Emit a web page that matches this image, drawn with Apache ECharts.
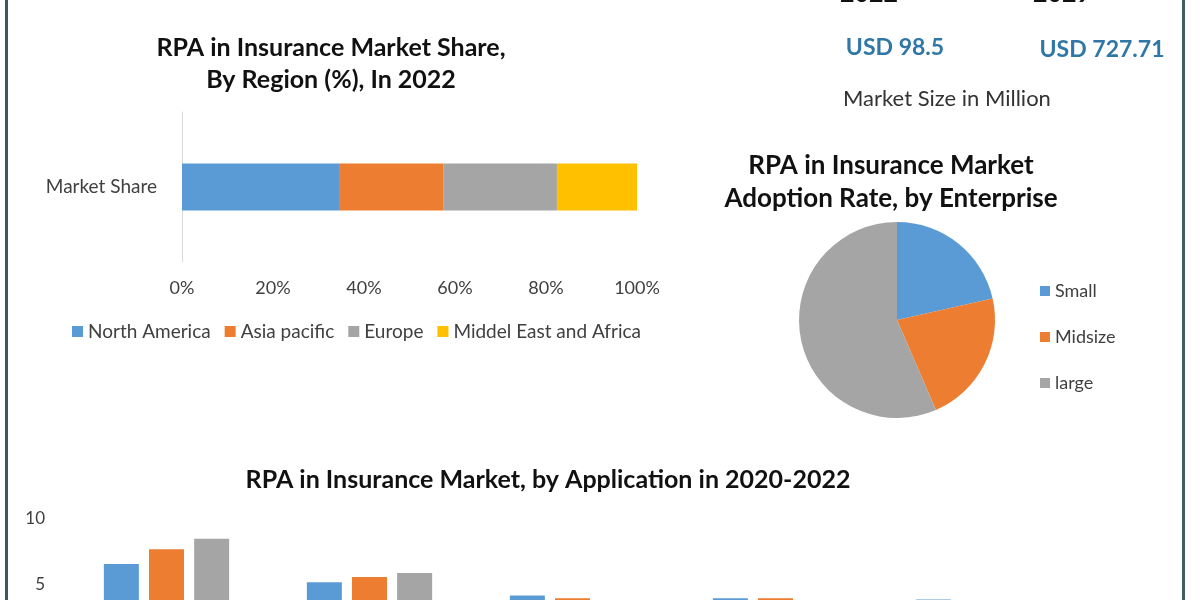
<!DOCTYPE html>
<html>
<head>
<meta charset="utf-8">
<script src="https://cdn.jsdelivr.net/npm/echarts@6/dist/echarts.min.js"></script>
<style>
  html, body { margin: 0; padding: 0; background: #fff; }
  #main { width: 1200px; height: 600px; }
</style>
</head>
<body>
<div id="main"></div>
<script>
// region share 2022 (%)
var regionNames = ['North America', 'Asia pacific', 'Europe', 'Middel East and Africa'];
var regionShare = [34.7, 22.7, 25.0, 17.6];
var shareTicks = [0, 20, 40, 60, 80, 100];

// adoption by enterprise
var enterpriseNames = ['Small', 'Midsize', 'large'];
var enterpriseShare = [21.5, 22.0, 56.5];

// application 2020-2022
var appNames = ['Claims Processing', 'Underwriting', 'Policy Administration', 'Regulatory Compliance', 'Others'];
var years = ['2020', '2021', '2022'];
var app2020 = [6.6, 5.2, 4.2, 4.0, 3.9];
var app2021 = [7.7, 5.6, 4.0, 4.0, 3.7];
var app2022 = [8.5, 5.9, 3.8, 3.7, 3.6];

var colors = ['#5b9bd5', '#ed7d31', '#a5a5a5', '#ffc000'];
var font = 'Lato, "Open Sans", sans-serif';

var chart = echarts.init(document.getElementById('main'));

var option = {
  backgroundColor: '#ffffff',
  color: colors,
  textStyle: { fontFamily: font },
  animation: false,
  graphic: [
    // frame lines
    { type: 'rect', shape: { x: 5, y: 0, width: 3, height: 600 }, style: { fill: '#3e5660' } },
    { type: 'rect', shape: { x: 1182, y: 0, width: 3, height: 600 }, style: { fill: '#3f6060' } },
    // market size block
    { type: 'text', style: { text: '2022', x: 869, y: -6, align: 'center', verticalAlign: 'middle', font: 'bold 25px ' + font, fill: '#111' } },
    { type: 'text', style: { text: '2029', x: 1062, y: -6, align: 'center', verticalAlign: 'middle', font: 'bold 25px ' + font, fill: '#111' } },
    { type: 'text', style: { text: 'USD 98.5', x: 895, y: 48, align: 'center', verticalAlign: 'middle', font: 'bold 23px ' + font, fill: '#2f77a6' } },
    { type: 'text', style: { text: 'USD 727.71', x: 1102, y: 50, align: 'center', verticalAlign: 'middle', font: 'bold 23px ' + font, fill: '#2f77a6' } },
    { type: 'text', style: { text: 'Market Size in Million', x: 843, y: 99, align: 'left', verticalAlign: 'middle', font: '22px ' + font, fill: '#333' } },
    // chart titles
    { type: 'text', style: { text: 'RPA in Insurance Market Share,\nBy Region (%), In 2022', x: 331, y: 64, align: 'center', verticalAlign: 'middle', lineHeight: 32, font: 'bold 25px ' + font, fill: '#111' } },
    { type: 'text', style: { text: 'RPA in Insurance Market\nAdoption Rate, by Enterprise', x: 891, y: 182, align: 'center', verticalAlign: 'middle', lineHeight: 33, font: 'bold 26px ' + font, fill: '#111' } },
    { type: 'text', style: { text: 'RPA in Insurance Market, by Application in 2020-2022', x: 548, y: 480, align: 'center', verticalAlign: 'middle', font: 'bold 25px ' + font, fill: '#111' } }
  ],
  legend: [
    {
      data: regionNames,
      left: 67, top: 317,
      icon: 'rect', itemWidth: 11, itemHeight: 11, itemGap: 14,
      textStyle: { fontSize: 19, color: '#404040', fontFamily: font }
    },
    {
      data: enterpriseNames,
      orient: 'vertical',
      left: 1035, top: 277,
      icon: 'rect', itemWidth: 10, itemHeight: 10, itemGap: 28,
      textStyle: { fontSize: 18, lineHeight: 18, color: '#404040', fontFamily: font }
    }
  ],
  grid: [
    { left: 182, top: 112, width: 455, height: 150, outerBoundsMode: 'none' },
    // the zero line of this chart sits below the visible picture
    { left: 65, top: 519, width: 1015, height: 132, outerBoundsMode: 'none' }
  ],
  xAxis: [
    {
      gridIndex: 0, type: 'value', min: 0, max: 100, interval: 20,
      axisLine: { show: false }, axisTick: { show: false }, splitLine: { show: false },
      axisLabel: { formatter: '{value}%', fontSize: 18, color: '#404040', margin: 17 }
    },
    {
      gridIndex: 1, type: 'category', data: appNames,
      axisLine: { show: false }, axisTick: { show: false },
      axisLabel: { fontSize: 16, color: '#404040' }
    }
  ],
  yAxis: [
    {
      gridIndex: 0, type: 'category', data: ['Market Share'],
      axisLine: { show: true, lineStyle: { color: '#d9d9d9', width: 1 } },
      axisTick: { show: false },
      axisLabel: { fontSize: 19, color: '#404040', margin: 25 }
    },
    {
      gridIndex: 1, type: 'value', min: 0, max: 10, interval: 5,
      axisLine: { show: false }, axisTick: { show: false }, splitLine: { show: false },
      axisLabel: { fontSize: 17, color: '#404040', margin: 20 }
    }
  ],
  series: [
    { name: regionNames[0], type: 'bar', stack: 'share', xAxisIndex: 0, yAxisIndex: 0, barWidth: 47, data: [regionShare[0]] },
    { name: regionNames[1], type: 'bar', stack: 'share', xAxisIndex: 0, yAxisIndex: 0, barWidth: 47, data: [regionShare[1]] },
    { name: regionNames[2], type: 'bar', stack: 'share', xAxisIndex: 0, yAxisIndex: 0, barWidth: 47, data: [regionShare[2]] },
    { name: regionNames[3], type: 'bar', stack: 'share', xAxisIndex: 0, yAxisIndex: 0, barWidth: 47, data: [regionShare[3]] },
    {
      type: 'pie',
      center: [897, 320], radius: 98,
      startAngle: 90, clockwise: true,
      label: { show: false }, labelLine: { show: false },
      data: enterpriseNames.map(function (n, i) {
        return { name: n, value: enterpriseShare[i], itemStyle: { color: colors[i] } };
      })
    },
    { name: years[0], type: 'bar', xAxisIndex: 1, yAxisIndex: 1, barWidth: 35, barGap: '29%', itemStyle: { color: colors[0] }, data: app2020 },
    { name: years[1], type: 'bar', xAxisIndex: 1, yAxisIndex: 1, barWidth: 35, barGap: '29%', itemStyle: { color: colors[1] }, data: app2021 },
    { name: years[2], type: 'bar', xAxisIndex: 1, yAxisIndex: 1, barWidth: 35, barGap: '29%', itemStyle: { color: colors[2] }, data: app2022 }
  ]
};

chart.setOption(option);
</script>
</body>
</html>
